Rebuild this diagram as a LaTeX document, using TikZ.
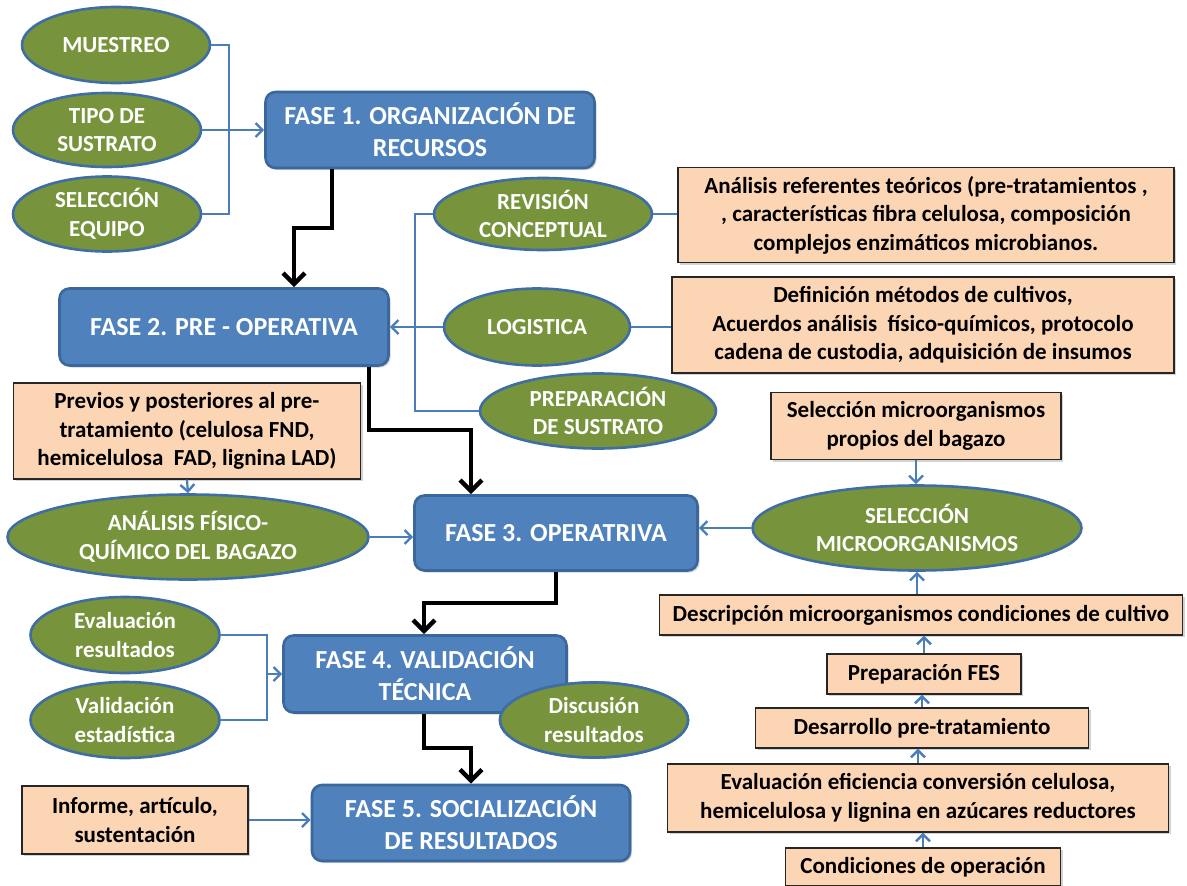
\documentclass[tikz,border=0pt]{standalone}
\usepackage{fontspec}
\setmainfont{Carlito}
\usetikzlibrary{arrows.meta,shadows,shapes.geometric}
\definecolor{gfill}{HTML}{77933C}
\definecolor{gline}{HTML}{3F6EA5}
\definecolor{bfill}{HTML}{4F81BD}
\definecolor{bline}{HTML}{3A679C}
\definecolor{pfill}{HTML}{FCD5B5}
\definecolor{conn}{HTML}{4A7EBB}
\tikzset{
  txt/.style={font=\fontsize{23}{28.5}\selectfont\bfseries, align=center, inner sep=0pt},
  oval/.style={txt, ellipse, draw=gline, line width=2.6pt, fill=gfill, text=white},
  phase/.style={txt, font=\fontsize{26}{32}\selectfont\bfseries, rectangle, rounded corners=10pt, draw=bline, line width=2.6pt, fill=bfill, text=white,
     drop shadow={shadow xshift=2pt, shadow yshift=-2pt, opacity=0.35}},
  note/.style={txt, rectangle, draw=black!85, line width=1.3pt, fill=pfill, text=black,
     drop shadow={shadow xshift=2pt, shadow yshift=-2pt, opacity=0.35}},
  bl/.style={draw=conn, line width=2.2pt},
  bla/.style={bl, -{Straight Barb[length=7pt,width=14pt,line width=2.4pt]}},
  blk/.style={draw=black, line width=4.5pt, -{Straight Barb[length=11pt,width=22pt,line width=4.5pt]}},
}
\begin{document}
\begin{tikzpicture}[x=1pt,y=-1pt]
\useasboundingbox (0,0) rectangle (1187,886);

% left ovals, top
\node[oval, minimum width=188pt, minimum height=76pt] (mue) at (116,45) {MUESTREO};
\node[oval, minimum width=188pt, minimum height=74pt] (tipo) at (107,130) {TIPO DE\\SUSTRATO};
\node[oval, minimum width=188pt, minimum height=75pt] (sel) at (107,214) {SELECCIÓN\\EQUIPO};

% phases
\node[phase, minimum width=329pt, minimum height=76pt] (f1) at (430,130) {FASE 1. ORGANIZACIÓN DE\\RECURSOS};
\node[phase, minimum width=329pt, minimum height=77pt] (f2) at (224,327) {FASE 2. PRE - OPERATIVA};
\node[phase, minimum width=283pt, minimum height=75pt] (f3) at (556,533) {FASE 3. OPERATRIVA};
\node[phase, minimum width=283pt, minimum height=77pt] (f4) at (425,674) {FASE 4. VALIDACIÓN\\TÉCNICA};
\node[phase, minimum width=318pt, minimum height=76pt] (f5) at (471,823) {FASE 5. SOCIALIZACIÓN\\DE RESULTADOS};

% right ovals
\node[oval, minimum width=218pt, minimum height=72pt] (rev) at (543,214) {REVISIÓN\\CONCEPTUAL};
\node[oval, minimum width=186pt, minimum height=77pt] (log) at (537,327) {LOGISTICA};
\node[oval, minimum width=236pt, minimum height=75pt] (prep) at (598,411) {PREPARACIÓN\\DE SUSTRATO};
\node[oval, minimum width=361pt, minimum height=85pt] (ana) at (188,537) {ANÁLISIS FÍSICO-\\QUÍMICO DEL BAGAZO};
\node[oval, minimum width=329pt, minimum height=85pt] (smic) at (917,528) {SELECCIÓN\\MICROORGANISMOS};
\node[oval, minimum width=189pt, minimum height=76pt] (eval) at (125,635) {Evaluación\\resultados};
\node[oval, minimum width=189pt, minimum height=76pt] (vali) at (125,720) {Validación\\estadística};
\node[oval, minimum width=188pt, minimum height=75pt] (disc) at (594,720) {Discusión\\resultados};

% notes
\node[note, minimum width=496pt, minimum height=95pt] (p1) at (926,215) {Análisis referentes teóricos (pre-tratamientos ,\\, características fibra celulosa, composición\\complejos enzimáticos microbianos.};
\node[note, minimum width=502pt, minimum height=96pt] (p2) at (923,325) {Definición métodos de cultivos,\\Acuerdos análisis\ \ físico-químicos, protocolo\\cadena de custodia, adquisición de insumos};
\node[note, minimum width=347pt, minimum height=96pt] (prev) at (187,431) {Previos y posteriores al pre-\\tratamiento (celulosa FND,\\hemicelulosa\ \ FAD, lignina LAD)};
\node[note, minimum width=290pt, minimum height=67pt] (sprop) at (916,426) {Selección microorganismos\\propios del bagazo};
\node[note, minimum width=523pt, minimum height=40pt] (desc) at (921,615) {Descripción microorganismos condiciones de cultivo};
\node[note, minimum width=194pt, minimum height=40pt] (fes) at (924,674) {Preparación FES};
\node[note, minimum width=333pt, minimum height=40pt] (desa) at (922,728) {Desarrollo pre-tratamiento};
\node[note, minimum width=501pt, minimum height=68pt] (efic) at (918,798) {Evaluación eficiencia conversión celulosa,\\hemicelulosa y lignina en azúcares reductores};
\node[note, minimum width=275pt, minimum height=38pt] (cond) at (923,867) {Condiciones de operación};
\node[note, minimum width=226pt, minimum height=68pt] (inf) at (135,820) {Informe, artículo,\\sustentación};

% coordinates
\coordinate (b1t) at (229,45);
\coordinate (b1b) at (229,214);
\coordinate (k1) at (332,228);
\coordinate (k2) at (294,228);
\coordinate (v1t) at (415,214);
\coordinate (v1b) at (415,411);
\coordinate (k3) at (369,430);
\coordinate (k4) at (471,430);
\coordinate (k5) at (556,603);
\coordinate (k6) at (424,603);
\coordinate (b2t) at (267,635);
\coordinate (b2b) at (267,720);
\coordinate (b2m) at (267,674);
\coordinate (k7) at (424,748);
\coordinate (k8) at (471,748);

% blue connectors
\draw[bl] (mue.east) -- (b1t) -- (b1b) -- (sel.east);
\draw[bla] (tipo.east) -- (f1.west);
\draw[bl] (rev.west) -- (v1t) -- (v1b) -- (prep.west);
\draw[bl] (rev.east) -- (rev.east -| p1.west);
\draw[bl] (log.east) -- (log.east -| p2.west);
\draw[bla] (log.west) -- (f2.east);
\draw[bla] (prev.south) -- (ana.north);
\draw[bla] (ana.east) -- (ana.east -| f3.west);
\draw[bla] (smic.west) -- (smic.west -| f3.east);
\draw[bla] (sprop.south) -- (sprop.south |- smic.north);
\draw[bla] (desc.north -| smic.south) -- (smic.south);
\draw[bla] (fes.north) -- (fes.north |- desc.south);
\draw[bla] (desa.north) -- (desa.north |- fes.south);
\draw[bla] (efic.north) -- (efic.north |- desa.south);
\draw[bla] (cond.north) -- (cond.north |- efic.south);
\draw[bl] (eval.east) -- (b2t) -- (b2b) -- (vali.east);
\draw[bla] (b2m) -- (f4.west);
\draw[bla] (inf.east) -- (inf.east -| f5.west);

% black connectors
\draw[blk] (f1.south -| k1) -- (k1) -- (k2) -- (k2 |- f2.north);
\draw[blk] (f2.south -| k3) -- (k3) -- (k4) -- (k4 |- f3.north);
\draw[blk] (f3.south -| k5) -- (k5) -- (k6) -- (k6 |- f4.north);
\draw[blk] (f4.south -| k7) -- (k7) -- (k8) -- (k8 |- f5.north);

% redraw discussion oval on top of phase 4
\node[oval, minimum width=188pt, minimum height=75pt] at (disc) {Discusión\\resultados};
\end{tikzpicture}
\end{document}
